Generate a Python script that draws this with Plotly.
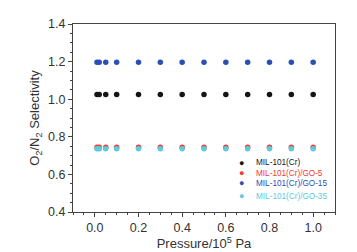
import plotly.graph_objects as go

pressure = [0.01, 0.02, 0.05, 0.1, 0.2, 0.3, 0.4, 0.5, 0.6, 0.7, 0.8, 0.9, 1.0]
sel_mil = [1.025] * 13
sel_go5 = [0.745] * 13
sel_go15 = [1.196] * 13
sel_go35 = [0.736] * 13

series_names = ["MIL-101(Cr)", "MIL-101(Cr)/GO-5", "MIL-101(Cr)/GO-15", "MIL-101(Cr)/GO-35"]
series_colors = ["#151515", "#ee3a32", "#2b4fb3", "#5ccbdb"]
series_values = [sel_mil, sel_go5, sel_go15, sel_go35]

font = "Liberation Sans, Arial, sans-serif"
fig = go.Figure()
for name, color, vals in zip(series_names, series_colors, series_values):
    fig.add_trace(go.Scatter(x=pressure, y=vals, mode="markers", name=name,
                             marker=dict(color=color, size=5.5), showlegend=False))

axis_common = dict(showline=True, linecolor="#444", linewidth=1, mirror=True,
                   ticks="outside", ticklen=4, tickcolor="#444", showgrid=False,
                   zeroline=False, automargin=False,
                   tickfont=dict(family=font, size=12.5, color="#333"),
                   minor=dict(ticks="outside", ticklen=2, tickcolor="#444"))

fig.update_xaxes(range=[-0.1, 1.1], dtick=0.2, tick0=0, tickformat=".1f",
                 title=dict(text="Pressure/10<sup>5</sup> Pa", font=dict(family=font, size=13, color="#333"), standoff=0),
                 **axis_common)
fig.update_yaxes(range=[0.4, 1.4], dtick=0.2, tick0=0.4, tickformat=".1f",
                 title=dict(text="O<sub>2</sub>/N<sub>2</sub> Selectivity", font=dict(family=font, size=13, color="#333"), standoff=5),
                 **axis_common)

# custom compact legend
leg_y = [0.262, 0.207, 0.152, 0.085]
for name, color, yy in zip(series_names, series_colors, leg_y):
    fig.add_annotation(xref="paper", yref="paper", x=0.645, y=yy, text="●",
                       showarrow=False, font=dict(family=font, size=9, color=color),
                       xanchor="center", yanchor="middle")
    fig.add_annotation(xref="paper", yref="paper", x=0.69, y=yy, text=name,
                       showarrow=False, font=dict(family=font, size=8.2, color=color),
                       xanchor="left", yanchor="middle")

# page body has an 8px default margin, so size the figure to fit the window
fig.update_layout(width=349, height=244, margin=dict(l=65, r=22, t=16, b=40),
                  plot_bgcolor="white", paper_bgcolor="white", showlegend=False)
fig.write_html("out.html")
